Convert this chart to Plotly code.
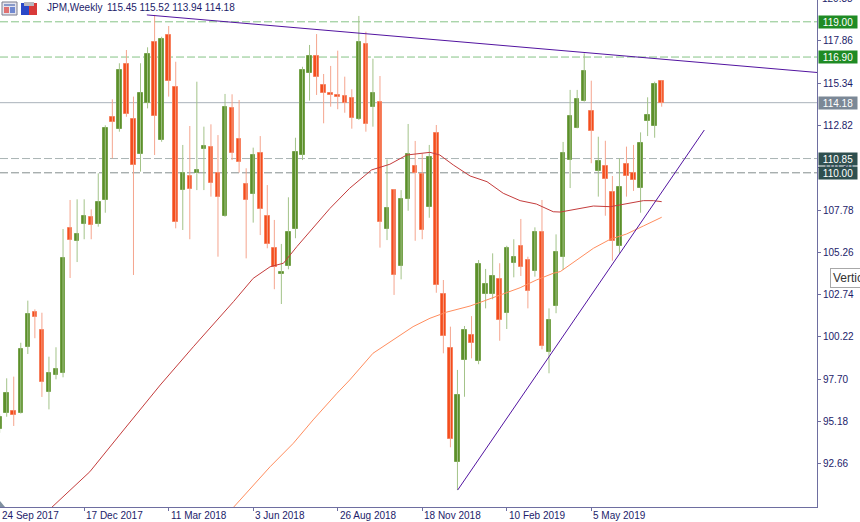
import plotly.graph_objects as go

# ---------------- data ----------------
opens = [94.73, 95.70, 95.82, 95.70, 99.63, 101.69, 100.61, 96.95, 97.95, 98.09,
         106.73, 105.95, 106.95, 107.37, 106.95, 108.38, 113.34, 112.61, 116.49, 113.21,
         111.12, 114.14, 117.78, 111.96, 118.21, 115.10, 108.96, 109.81, 109.97, 111.44,
         111.52, 109.97, 107.44, 113.88, 112.00, 109.33, 108.72, 111.18, 107.44, 105.50,
         103.97, 104.46, 106.67, 111.06, 115.97, 116.96, 115.23, 114.76, 114.64, 114.58,
         114.48, 113.21, 117.68, 113.90, 114.22, 106.65, 108.97, 104.46, 108.44, 110.42,
         109.95, 107.94, 112.39, 102.78, 99.54, 92.74, 98.84, 100.31, 98.80, 102.78,
         102.78, 103.69, 101.64, 104.61, 105.64, 104.80, 104.15, 106.49, 99.34, 102.08,
         104.98, 110.79, 112.69, 114.30, 113.68, 110.13, 110.41, 108.86, 105.65, 110.52,
         110.01, 109.11, 113.09, 112.79, 115.45]
highs = [95.60, 97.75, 97.85, 99.87, 102.38, 101.86, 101.66, 99.04, 99.60, 106.65,
         108.38, 108.42, 108.42, 107.82, 109.97, 112.83, 114.38, 116.53, 117.32, 114.54,
         116.53, 117.48, 119.41, 118.11, 118.75, 116.62, 111.66, 112.79, 115.43, 112.75,
         112.89, 112.25, 114.70, 114.68, 114.34, 110.27, 111.50, 112.19, 109.27, 107.19,
         105.76, 108.54, 112.09, 116.32, 117.62, 118.27, 115.89, 116.37, 117.28, 115.73,
         114.98, 119.35, 118.41, 116.80, 115.77, 110.80, 109.03, 108.97, 112.91, 111.90,
         111.14, 111.66, 112.85, 103.61, 100.83, 98.25, 100.87, 101.46, 104.80, 104.27,
         105.20, 104.61, 105.65, 106.04, 107.25, 105.00, 106.75, 108.38, 101.92, 106.33,
         111.84, 114.94, 114.94, 117.12, 115.49, 112.15, 111.91, 109.81, 110.86, 111.56,
         111.66, 112.41, 114.50, 115.43, 115.52]
lows = [94.50, 95.46, 94.91, 95.65, 99.20, 100.14, 96.64, 95.90, 97.69, 97.81,
        103.73, 104.68, 106.04, 106.04, 106.79, 107.62, 110.86, 112.45, 113.34, 103.91,
        110.07, 113.84, 111.06, 111.85, 114.54, 106.69, 106.59, 106.04, 108.97, 108.97,
        108.58, 105.00, 107.38, 110.76, 110.01, 104.90, 107.03, 106.29, 105.50, 103.06,
        102.18, 104.25, 106.10, 110.76, 114.30, 114.64, 112.95, 113.94, 113.79, 113.58,
        112.63, 113.15, 112.45, 112.75, 105.54, 105.99, 102.72, 103.65, 107.74, 105.95,
        106.04, 107.32, 102.85, 99.24, 93.64, 91.09, 96.65, 98.94, 98.59, 101.92,
        102.46, 99.99, 100.69, 103.77, 103.85, 101.92, 103.81, 99.48, 98.05, 101.63,
        104.21, 109.09, 112.65, 114.24, 110.57, 108.58, 107.44, 104.76, 105.20, 108.58,
        108.92, 107.62, 112.19, 112.09, 113.94]
closes = [95.44, 96.89, 95.56, 99.50, 101.58, 101.39, 97.51, 98.05, 98.31, 104.92,
          105.99, 106.35, 107.42, 106.91, 108.26, 112.67, 113.05, 116.13, 113.49, 110.47,
          114.74, 117.08, 113.40, 117.98, 115.49, 107.09, 109.97, 109.05, 110.17, 111.62,
          109.41, 108.54, 113.94, 111.20, 110.66, 108.38, 111.04, 107.84, 105.74, 104.40,
          104.11, 106.45, 111.22, 116.11, 116.96, 115.73, 114.74, 114.66, 114.54, 114.14,
          113.28, 117.81, 112.89, 114.74, 107.09, 107.90, 103.91, 108.44, 111.12, 109.97,
          106.61, 110.97, 103.31, 100.29, 94.12, 96.76, 100.63, 99.87, 104.55, 103.37,
          103.85, 101.24, 105.52, 104.96, 104.40, 102.97, 106.49, 99.68, 101.23, 105.26,
          111.16, 113.39, 114.38, 116.07, 112.49, 110.70, 109.63, 105.92, 109.14, 109.81,
          109.57, 111.79, 113.45, 115.28, 114.18]

# moving averages (week index, value)
ma_slow_idx = [7.4, 12.8, 17.6, 22.8, 27.5, 33.2, 36.0, 38.4, 40.3, 42.2, 46.9, 49.7, 52.8,
               55.4, 57.8, 61.1, 62.5, 64.4, 66.8, 69.2, 71.5, 73.9, 76.2, 78.6, 79.6,
               82.4, 84.3, 86.7, 89.0, 91.4, 92.8, 94.0]
ma_slow_val = [90.06, 92.18, 94.67, 97.35, 99.63, 102.32, 103.71, 104.40, 104.61, 105.60,
               107.88, 109.08, 110.17, 110.51, 111.06, 111.22, 111.06, 110.47, 109.81,
               109.47, 108.78, 108.34, 108.14, 107.68, 107.66, 107.88, 108.02, 107.98,
               108.14, 108.34, 108.34, 108.28]
ma_long_idx = [33.2, 38.4, 41.7, 44.5, 47.9, 49.7, 53.0, 55.9, 58.7, 61.1, 63.5, 66.8,
               69.2, 71.5, 73.9, 76.2, 78.6, 79.6, 81.9, 84.3, 86.7, 89.0, 91.4, 94.0]
ma_long_val = [90.06, 92.48, 93.88, 95.27, 96.86, 97.65, 99.24, 100.03, 100.83, 101.33,
               101.70, 102.06, 102.42, 102.76, 103.15, 103.61, 104.01, 104.11, 104.80,
               105.50, 106.04, 106.35, 106.83, 107.35]

# trend lines (week index, price)
trend_down_x = [20.9, 116.05]
trend_down_y = [119.41, 115.98]
trend_up_x = [65.03, 100.05]
trend_up_y = [91.09, 112.55]

# horizontal levels
levels = [119.00, 116.90, 114.18, 110.85, 110.00]

tick_idx = [0, 12, 24, 36, 48, 60, 72, 84]
tick_labels = ["24 Sep 2017", "17 Dec 2017", "11 Mar 2018", "3 Jun 2018",
               "26 Aug 2018", "18 Nov 2018", "10 Feb 2019", "5 May 2019"]
price_ticks = [92.66, 95.18, 97.70, 100.22, 102.74, 105.26, 107.78, 110.30,
               112.82, 115.34, 117.86]
top_tick = 120.38
title_sym = "JPM,Weekly"
title_ohlc = "115.45 115.52 113.94 114.18"

# ---------------- styling ----------------
NAVY = "#1c1c6a"
AXIS = "#6e6ea0"
FONT = "Liberation Sans"
G_FILL, G_LINE, G_WICK = "#5c8f2a", "#76a34c", "#a3c389"
R_FILL, R_LINE, R_WICK = "#f44d1c", "#f7805e", "#f5a58e"
X_RANGE = [0.05, 116.05]
Y_RANGE = [90.08, 120.30]
PW, PH = 817, 507


def x_to_paper(v):
    return (v - X_RANGE[0]) / (X_RANGE[1] - X_RANGE[0])


def y_to_paper(v):
    return (v - Y_RANGE[0]) / (Y_RANGE[1] - Y_RANGE[0])


fig = go.Figure()

# level lines (below)
level_style = {
    119.00: dict(color="#86c486", dash="8px,3px"),
    116.90: dict(color="#86c486", dash="8px,3px"),
    114.18: dict(color="#aab2ba", dash="solid"),
    110.85: dict(color="#aab4b4", dash="8px,3px"),
    110.00: dict(color="#848e8e", dash="8px,3px"),
}
for lv in levels:
    fig.add_shape(type="line", xref="paper", yref="y", x0=0, x1=1, y0=lv, y1=lv,
                  line=dict(width=1, **level_style[lv]), layer="below")

# wicks
n = len(opens)
up = [closes[i] >= opens[i] for i in range(n)]
for is_up, col in [(True, G_WICK), (False, R_WICK)]:
    wx, wy = [], []
    for i in range(n):
        if up[i] == is_up:
            wx += [i, i, None]
            wy += [lows[i], highs[i], None]
    fig.add_trace(go.Scatter(x=wx, y=wy, mode="lines", line=dict(color=col, width=1),
                             hoverinfo="skip"))

# bodies
for is_up, fc, lc in [(True, G_FILL, G_LINE), (False, R_FILL, R_LINE)]:
    bx, bb, bh = [], [], []
    for i in range(n):
        if up[i] == is_up:
            bx.append(i)
            lo = min(opens[i], closes[i])
            bb.append(lo)
            bh.append(max(abs(closes[i] - opens[i]), 0.06))
    fig.add_trace(go.Bar(x=bx, y=bh, base=bb, width=0.64,
                         marker=dict(color=fc, line=dict(color=lc, width=1))))

# moving averages
fig.add_trace(go.Scatter(x=ma_slow_idx, y=ma_slow_val, mode="lines",
                         line=dict(color="#c43c3c", width=1)))
fig.add_trace(go.Scatter(x=ma_long_idx, y=ma_long_val, mode="lines",
                         line=dict(color="#ff8d5e", width=1)))
# trend lines
fig.add_trace(go.Scatter(x=trend_down_x, y=trend_down_y, mode="lines",
                         line=dict(color="#5214a0", width=1)))
fig.add_trace(go.Scatter(x=trend_up_x, y=trend_up_y, mode="lines",
                         line=dict(color="#5214a0", width=1)))

ann = []
# level price boxes
box_bg = {119.00: "#1f8b24", 116.90: "#1f8b24", 114.18: "#7b8896",
          110.85: "#2f4f4f", 110.00: "#2f4f4f"}
for lv in levels:
    ann.append(dict(x=1, xref="paper", xanchor="left", xshift=1, y=lv, yref="y",
                    yanchor="middle", text=f"{lv:.2f}", showarrow=False,
                    font=dict(family=FONT, size=10, color="white"),
                    bgcolor=box_bg[lv], width=36, height=10, borderpad=1))
# cut-off top tick label
ann.append(dict(x=1, xref="paper", xanchor="left", xshift=3, y=y_to_paper(top_tick),
                yref="paper", yanchor="middle", text=f"{top_tick:.2f}", showarrow=False,
                font=dict(family=FONT, size=10, color=NAVY)))
# date labels
for ti, tl in zip(tick_idx, tick_labels):
    ann.append(dict(x=x_to_paper(ti), xref="paper", xanchor="left", xshift=0, y=0,
                    yref="paper", yanchor="top", yshift=-1, text=tl, showarrow=False,
                    font=dict(family=FONT, size=10, color=NAVY)))
# title
ann.append(dict(x=45 / PW, xref="paper", xanchor="left", y=1 - 8 / PH, yref="paper",
                yanchor="middle", text=title_sym, showarrow=False,
                font=dict(family=FONT, size=10, color=NAVY)))
ann.append(dict(x=105 / PW, xref="paper", xanchor="left", y=1 - 8 / PH, yref="paper",
                yanchor="middle", text=title_ohlc, showarrow=False,
                font=dict(family=FONT, size=10, color=NAVY)))
# vertical line tag (cut off at right edge)
ann.append(dict(x=830 / PW, xref="paper", xanchor="left", y=1 - 277.5 / PH, yref="paper",
                yanchor="middle", text="Vertical Line", showarrow=False, align="left",
                font=dict(family=FONT, size=12, color="#333333"),
                bgcolor="white", bordercolor="#a8a8a8", borderwidth=1, borderpad=2))


def px_rect(x0, y0, x1, y1, fill, line=None):
    fig.add_shape(type="rect", xref="paper", yref="paper",
                  x0=x0 / PW, x1=x1 / PW, y0=1 - y0 / PH, y1=1 - y1 / PH,
                  fillcolor=fill, line=dict(color=line or fill, width=1 if line else 0),
                  layer="above")


# chart window icons
px_rect(2, 2, 17, 15, "#e4e4ee", "#7c7c8c")
px_rect(4, 4, 15, 6, "#8a9ac8")
px_rect(4, 7, 9, 13, "#e07070")
px_rect(10, 7, 15, 13, "#7088d0")
px_rect(21, 3, 29, 15, "#2a48c8")
px_rect(29, 3, 37, 15, "#d83a3a")
px_rect(24, 2, 34, 6, "#b8b8c0")

# chart-shift marker at bottom-left corner
fig.add_shape(type="path", xref="paper", yref="paper",
              path=f"M 0,{1 - 501 / PH} L {5 / PW},{1 - 507 / PH} L 0,{1 - 507 / PH} Z",
              fillcolor="#8090a0", line=dict(width=0), layer="above")

fig.update_layout(
    width=860, height=522,
    margin=dict(l=0, r=43, t=0, b=15, autoexpand=False),
    paper_bgcolor="white", plot_bgcolor="white",
    showlegend=False, barmode="overlay", bargap=0,
    annotations=ann,
    xaxis=dict(range=X_RANGE, showgrid=False, zeroline=False, showline=True,
               linecolor=AXIS, linewidth=1, ticks="outside", ticklen=3,
               tickcolor=AXIS, tickvals=tick_idx, showticklabels=False,
               fixedrange=True, automargin=False),
    yaxis=dict(range=Y_RANGE, side="right", showgrid=False, zeroline=False,
               showline=True, linecolor=AXIS, linewidth=1, ticks="outside",
               ticklen=3, tickcolor=AXIS, tickvals=price_ticks,
               ticktext=[f"{v:.2f}" for v in price_ticks],
               tickfont=dict(family=FONT, size=10, color=NAVY), fixedrange=True,
               automargin=False),
)

fig.write_html("out.html", config={"displayModeBar": False},
               post_script="document.body.style.margin='0px';"
                           "document.body.style.overflow='hidden';")
